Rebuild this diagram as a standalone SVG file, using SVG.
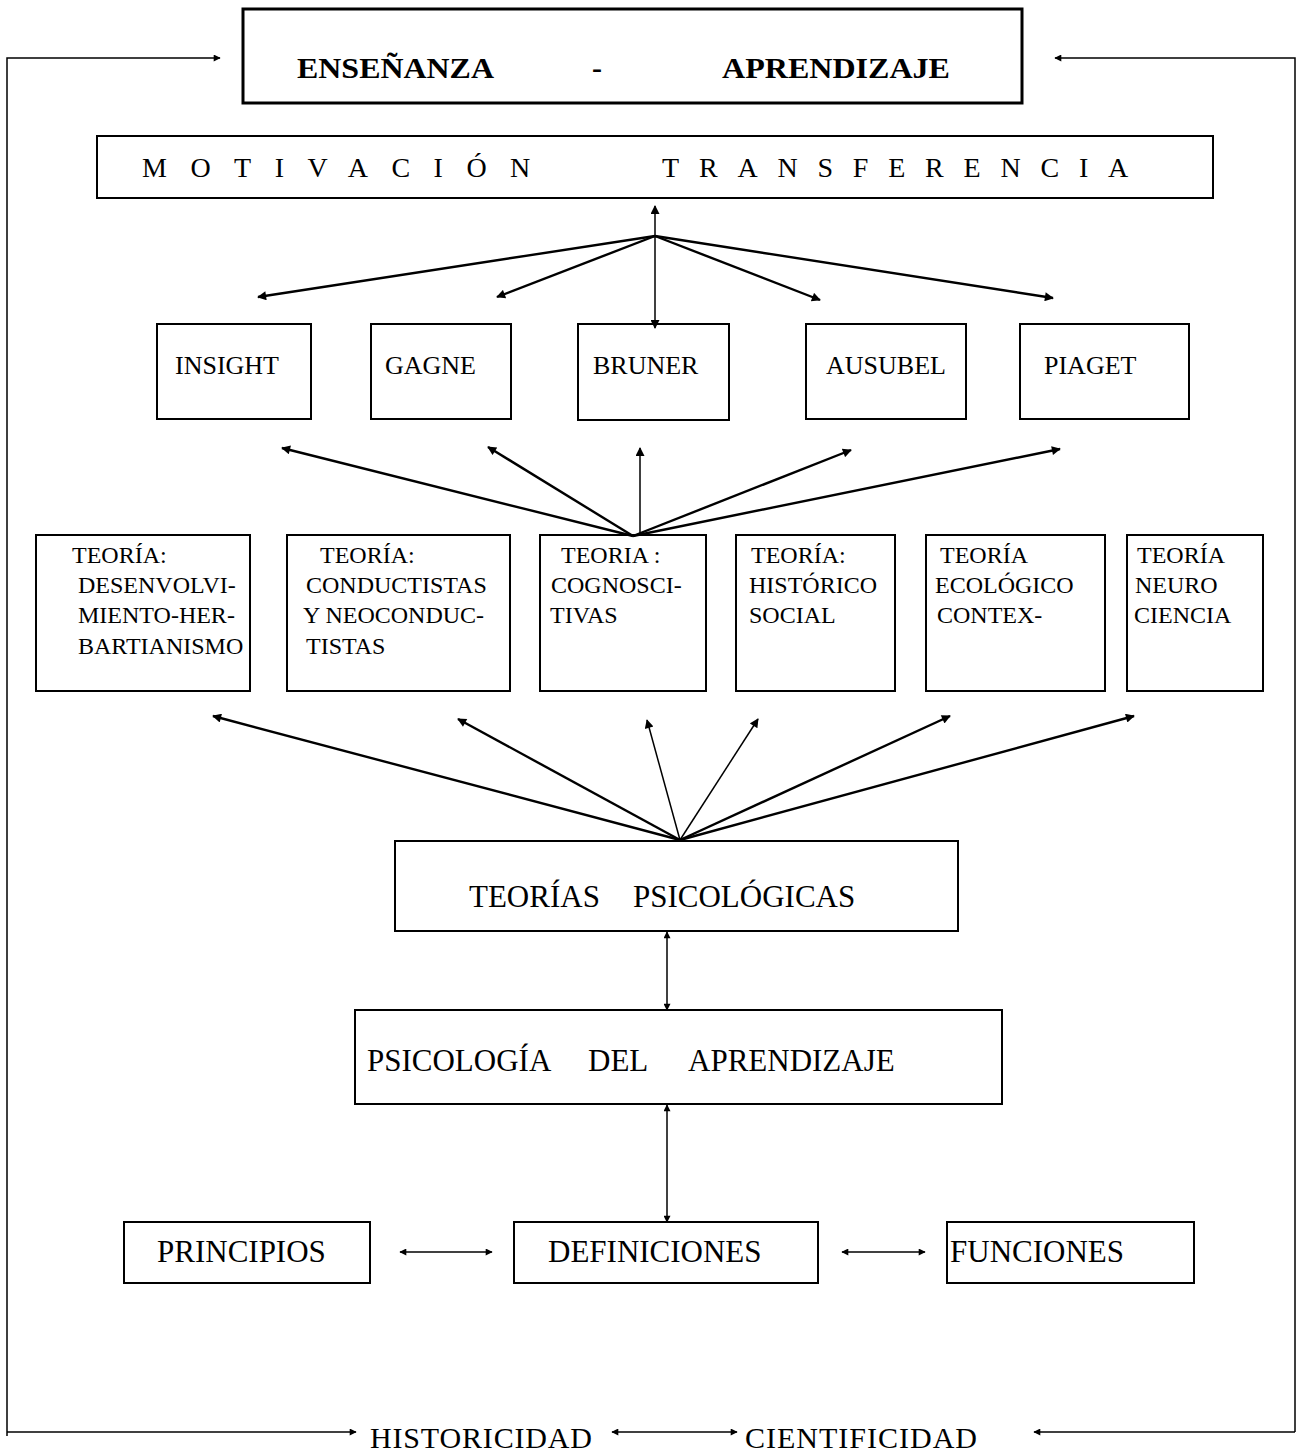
<svg xmlns="http://www.w3.org/2000/svg" width="1307" height="1456" viewBox="0 0 1307 1456">
<style>
.box{fill:#fff;stroke:#000;stroke-width:2}
.thick{stroke-width:3}
.t{font-family:"Liberation Serif","Times New Roman",serif;fill:#000}
.b{font-weight:bold;font-size:30px}
.sp{font-size:28px}
.n{font-size:26px}
.th{font-size:24px}
.big{font-size:31px}
.low{font-size:30px}
.c{fill:none;stroke:#000;stroke-width:2.4}
.cf{fill:none;stroke:#000;stroke-width:1.5}
</style>
<defs>
<marker id="ah" viewBox="0 0 10 10" refX="9" refY="5" markerWidth="11" markerHeight="9" markerUnits="userSpaceOnUse" orient="auto-start-reverse">
<path d="M0,0 L10,5 L0,10 z" fill="#000"/>
</marker>
<marker id="as" viewBox="0 0 10 10" refX="9" refY="5" markerWidth="9" markerHeight="7" markerUnits="userSpaceOnUse" orient="auto-start-reverse">
<path d="M0,0 L10,5 L0,10 z" fill="#000"/>
</marker>
</defs>

<g id="ensenanza">
<rect class="box thick" x="243" y="9" width="779" height="94"/>
<text class="t b" x="297" y="78" textLength="197" lengthAdjust="spacingAndGlyphs">ENSEÑANZA</text>
<text class="t b" x="592" y="78">-</text>
<text class="t b" x="722" y="78" textLength="228" lengthAdjust="spacingAndGlyphs">APRENDIZAJE</text>
</g>

<g id="motivacion">
<rect class="box" x="97" y="136" width="1116" height="62"/>
<text class="t sp" x="142" y="177" letter-spacing="23.5">MOTIVACIÓN</text>
<text class="t sp" x="662" y="177" letter-spacing="19.8">TRANSFERENCIA</text>
</g>

<g id="insight"><rect class="box" x="157" y="324" width="154" height="95"/><text class="t n" x="175" y="374">INSIGHT</text></g>
<g id="gagne"><rect class="box" x="371" y="324" width="140" height="95"/><text class="t n" x="385" y="374">GAGNE</text></g>
<g id="bruner"><rect class="box" x="578" y="324" width="151" height="96"/><text class="t n" x="593" y="374">BRUNER</text></g>
<g id="ausubel"><rect class="box" x="806" y="324" width="160" height="95"/><text class="t n" x="826" y="374">AUSUBEL</text></g>
<g id="piaget"><rect class="box" x="1020" y="324" width="169" height="95"/><text class="t n" x="1044" y="374">PIAGET</text></g>

<g id="teoria-desenvolvimiento">
<rect class="box" x="36" y="535" width="214" height="156"/>
<text class="t th"><tspan x="72" y="563">TEORÍA:</tspan><tspan x="78" y="593">DESENVOLVI-</tspan><tspan x="78" y="623">MIENTO-HER-</tspan><tspan x="78" y="654">BARTIANISMO</tspan></text>
</g>
<g id="teoria-conductistas">
<rect class="box" x="287" y="535" width="223" height="156"/>
<text class="t th"><tspan x="320" y="563">TEORÍA:</tspan><tspan x="306" y="593">CONDUCTISTAS</tspan><tspan x="303" y="623">Y NEOCONDUC-</tspan><tspan x="306" y="654">TISTAS</tspan></text>
</g>
<g id="teoria-cognoscitivas">
<rect class="box" x="540" y="535" width="166" height="156"/>
<text class="t th"><tspan x="561" y="563">TEORIA :</tspan><tspan x="551" y="593">COGNOSCI-</tspan><tspan x="550" y="623">TIVAS</tspan></text>
</g>
<g id="teoria-historico">
<rect class="box" x="736" y="535" width="159" height="156"/>
<text class="t th"><tspan x="751" y="563">TEORÍA:</tspan><tspan x="749" y="593">HISTÓRICO</tspan><tspan x="749" y="623">SOCIAL</tspan></text>
</g>
<g id="teoria-ecologico">
<rect class="box" x="926" y="535" width="179" height="156"/>
<text class="t th"><tspan x="940" y="563">TEORÍA</tspan><tspan x="935" y="593">ECOLÓGICO</tspan><tspan x="937" y="623">CONTEX-</tspan></text>
</g>
<g id="teoria-neuro">
<rect class="box" x="1127" y="535" width="136" height="156"/>
<text class="t th"><tspan x="1137" y="563">TEORÍA</tspan><tspan x="1135" y="593">NEURO</tspan><tspan x="1134" y="623">CIENCIA</tspan></text>
</g>

<g id="teorias-psicologicas">
<rect class="box" x="395" y="841" width="563" height="90"/>
<text class="t big" x="469" y="907">TEORÍAS</text>
<text class="t big" x="633" y="907">PSICOLÓGICAS</text>
</g>

<g id="psicologia">
<rect class="box" x="355" y="1010" width="647" height="94"/>
<text class="t big" x="367" y="1071">PSICOLOGÍA</text>
<text class="t big" x="588" y="1071">DEL</text>
<text class="t big" x="688" y="1071">APRENDIZAJE</text>
</g>

<g id="principios"><rect class="box" x="124" y="1222" width="246" height="61"/><text class="t big" x="157" y="1262">PRINCIPIOS</text></g>
<g id="definiciones"><rect class="box" x="514" y="1222" width="304" height="61"/><text class="t big" x="548" y="1262">DEFINICIONES</text></g>
<g id="funciones"><rect class="box" x="947" y="1222" width="247" height="61"/><text class="t big" x="950" y="1262">FUNCIONES</text></g>

<g id="historicidad"><text class="t low" x="370" y="1448" textLength="222">HISTORICIDAD</text></g>
<g id="cientificidad"><text class="t low" x="745" y="1448" textLength="232">CIENTIFICIDAD</text></g>

<g id="connectors">
<polyline class="cf" points="7,1436 7,58 220,58" marker-end="url(#as)"/>
<polyline class="cf" points="1295,1432 1295,58 1055,58" marker-end="url(#as)"/>
<line class="cf" x1="7" y1="1432" x2="356" y2="1432" marker-end="url(#as)"/>
<line class="cf" x1="1295" y1="1432" x2="1034" y2="1432" marker-end="url(#as)"/>
<line class="cf" x1="612" y1="1432" x2="737" y2="1432" marker-start="url(#as)" marker-end="url(#as)"/>
<line class="cf" x1="655" y1="206" x2="655" y2="328" marker-start="url(#ah)" marker-end="url(#ah)"/>
<line class="c" x1="655" y1="236" x2="258" y2="297" marker-end="url(#ah)"/>
<line class="c" x1="655" y1="236" x2="497" y2="297" marker-end="url(#ah)"/>
<line class="c" x1="655" y1="236" x2="820" y2="300" marker-end="url(#ah)"/>
<line class="c" x1="655" y1="236" x2="1053" y2="298" marker-end="url(#ah)"/>
<line class="c" x1="633" y1="536" x2="282" y2="448" marker-end="url(#ah)"/>
<line class="c" x1="633" y1="536" x2="488" y2="447" marker-end="url(#ah)"/>
<line class="cf" x1="640" y1="534" x2="640" y2="448" marker-end="url(#ah)"/>
<line class="c" x1="633" y1="536" x2="851" y2="450" marker-end="url(#ah)"/>
<line class="c" x1="633" y1="536" x2="1060" y2="449" marker-end="url(#ah)"/>
<line class="c" x1="680" y1="840" x2="213" y2="716" marker-end="url(#ah)"/>
<line class="c" x1="680" y1="840" x2="458" y2="719" marker-end="url(#ah)"/>
<line class="cf" x1="680" y1="840" x2="647" y2="720" marker-end="url(#ah)"/>
<line class="cf" x1="680" y1="840" x2="758" y2="719" marker-end="url(#ah)"/>
<line class="c" x1="680" y1="840" x2="950" y2="716" marker-end="url(#ah)"/>
<line class="c" x1="680" y1="840" x2="1134" y2="716" marker-end="url(#ah)"/>
<line class="cf" x1="667" y1="932" x2="667" y2="1010" marker-start="url(#as)" marker-end="url(#as)"/>
<line class="cf" x1="667" y1="1105" x2="667" y2="1222" marker-start="url(#as)" marker-end="url(#as)"/>
<line class="cf" x1="400" y1="1252" x2="492" y2="1252" marker-start="url(#as)" marker-end="url(#as)"/>
<line class="cf" x1="842" y1="1252" x2="925" y2="1252" marker-start="url(#as)" marker-end="url(#as)"/>
</g>
</svg>
